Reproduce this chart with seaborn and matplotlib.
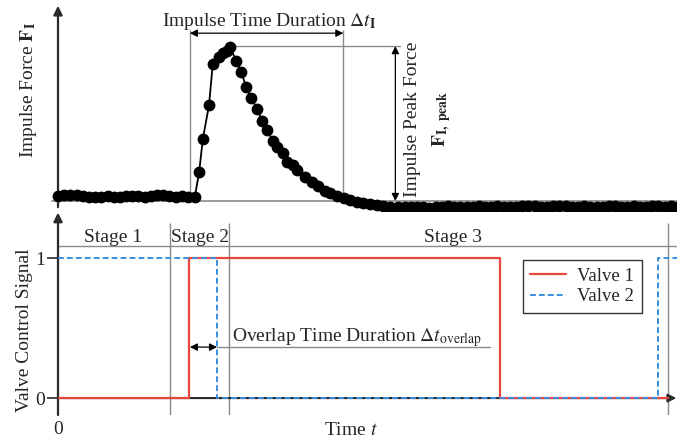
import matplotlib
matplotlib.use("Agg")
import matplotlib.pyplot as plt
import seaborn as sns

# Impulse force samples (normalised so the peak is 1)
t_pre = [0, 1, 2, 3, 4, 5, 6, 7, 8, 9, 10, 11, 12, 13, 14, 15, 16, 17, 18, 19, 20, 21]
f_pre = [0.030, 0.036, 0.042, 0.038, 0.030, 0.026, 0.024, 0.028, 0.030, 0.026, 0.028,
         0.032, 0.030, 0.034, 0.028, 0.030, 0.036, 0.038, 0.032, 0.028, 0.030, 0.026]
t_imp = [22.1, 22.8, 23.4, 24.4, 25.0, 26.0, 26.7, 27.3, 27.8, 28.8, 29.6, 30.4, 31.2,
         32.2, 33.0, 33.8, 34.7, 35.4, 36.4, 37.0, 38.0, 38.6, 39.9, 41.0, 42.0, 43.1,
         44.0, 45.1, 46.2, 47.2, 48.3, 49.3, 50.4, 51.5, 52.5, 53.6]
f_imp = [0.026, 0.188, 0.403, 0.623, 0.890, 0.935, 0.961, 0.974, 1.000, 0.909, 0.838,
         0.740, 0.669, 0.597, 0.519, 0.461, 0.390, 0.351, 0.312, 0.253, 0.234, 0.201,
         0.156, 0.123, 0.097, 0.065, 0.052, 0.032, 0.019, 0.006, -0.006, -0.013,
         -0.019, -0.026, -0.032, -0.039]
t_post = [55, 56, 57, 58, 59, 60, 61, 62, 63, 64, 65, 66, 67, 68, 69, 70, 71, 72, 73,
          74, 75, 76, 77, 78, 79, 80, 81, 82, 83, 84, 85, 86, 87, 88, 89, 90, 91, 92,
          93, 94, 95, 96, 97, 98, 99, 100]
f_post = [-0.040, -0.042, -0.038, -0.036, -0.040, -0.044, -0.040, -0.036, -0.034,
          -0.038, -0.042, -0.040, -0.036, -0.034, -0.038, -0.036, -0.032, -0.036,
          -0.040, -0.038, -0.034, -0.030, -0.034, -0.038, -0.036, -0.032, -0.030,
          -0.034, -0.038, -0.036, -0.034, -0.038, -0.040, -0.036, -0.032, -0.034,
          -0.038, -0.036, -0.034, -0.036, -0.038, -0.034, -0.032, -0.036, -0.034, -0.036]

# Valve control signals (step changes)
t_valve1 = [0, 21.2, 71.4, 98.6]
valve1 = [0, 1, 0, 0]
t_valve2 = [0, 25.7, 97.0, 100]
valve2 = [1, 0, 1, 1]

# Event times
impulse_start, impulse_end = 21.3, 46.1
stage_bounds = [18.1, 27.6, 98.6]
stage_labels = ["Stage 1", "Stage 2", "Stage 3"]
stage_label_x = [8.9, 22.9, 63.8]

sns.set_style("white")
plt.rcParams["font.family"] = ["Liberation Serif", "DejaVu Serif"]
plt.rcParams["mathtext.fontset"] = "stix"
plt.rcParams["font.size"] = 14

fig = plt.figure(figsize=(6.77, 4.43), dpi=100)
ax1 = fig.add_axes([58 / 677, (443 - 215) / 443, 619 / 677, 210 / 443])
ax2 = fig.add_axes([58 / 677, (443 - 415) / 443, 619 / 677, 203 / 443])
for ax in (ax1, ax2):
    ax.set_xlim(0, 100)
    for sp in ax.spines.values():
        sp.set_visible(False)

gray = "#8a8a8a"
axis_col = "#2a2a2a"
dbl = dict(arrowstyle="<|-|>", color="black", lw=0.9, mutation_scale=11,
           shrinkA=0, shrinkB=0)

# ---- top: impulse force ----
ax1.set_ylim(-0.091, 1.273)
ax1.set_xticks([])
ax1.set_yticks([])
ax1.plot([-1, 100], [0, 0], color=gray, lw=1.2, clip_on=False, zorder=1)
ax1.annotate("", xy=(0, 1.268), xytext=(0, -0.04), annotation_clip=False,
             arrowprops=dict(arrowstyle="-|>", color=axis_col, lw=1.6,
                             mutation_scale=13, shrinkA=0, shrinkB=0))

sns.lineplot(x=t_pre + t_imp + t_post, y=f_pre + f_imp + f_post, ax=ax1,
             color="black", lw=1.3, marker="o", markersize=8.5, markeredgewidth=0,
             sort=False, estimator=None, clip_on=False, zorder=3)

ax1.vlines([impulse_start, impulse_end], 0, 1.11, color=gray, lw=1.0, zorder=1)
ax1.annotate("", xy=(impulse_start, 1.09), xytext=(impulse_end, 1.09), arrowprops=dbl)
ax1.text(16.8, 1.136, r"Impulse Time Duration $\Delta t_\mathbf{I}$", va="baseline")

ax1.plot([28.1, 55.3], [1.006, 1.006], color=gray, lw=1.0, zorder=1)
ax1.annotate("", xy=(54.5, 1.006), xytext=(54.5, 0.0), arrowprops=dbl)
ax1.text(57.2, 0.53, "Impulse Peak Force", rotation=90, ha="center", va="center")
ax1.text(62.0, 0.53, r"$\mathbf{F}_\mathbf{I,\ peak}$", rotation=90, ha="center", va="center")
ax1.text(-4.8, 0.72, r"Impulse Force $\mathbf{F}_\mathbf{I}$", rotation=90,
         ha="center", va="center")

# ---- bottom: valve control signals ----
ax2.set_ylim(-0.121, 1.329)
ax2.annotate("", xy=(0, 1.325), xytext=(0, -0.121), annotation_clip=False,
             arrowprops=dict(arrowstyle="-|>", color=axis_col, lw=1.6,
                             mutation_scale=13, shrinkA=0, shrinkB=0))
ax2.annotate("", xy=(99.9, 0), xytext=(0, 0), annotation_clip=False,
             arrowprops=dict(arrowstyle="-|>", color=axis_col, lw=1.5,
                             mutation_scale=12, shrinkA=0, shrinkB=0))

ax2.vlines(stage_bounds, -0.121, 1.25, color=gray, lw=1.0, zorder=1)
ax2.plot([0, 100], [1.086, 1.086], color=gray, lw=1.0, zorder=1)
for lab, x in zip(stage_labels, stage_label_x):
    ax2.text(x, 1.116, lab, ha="center", va="baseline")

sns.lineplot(x=t_valve1, y=valve1, ax=ax2, color="#e8453c", lw=1.6,
             drawstyle="steps-post", label="Valve 1", sort=False, estimator=None, zorder=3)
sns.lineplot(x=t_valve2, y=valve2, ax=ax2, color="#3a8edc", lw=1.4,
             linestyle=(0, (3, 1.6)), drawstyle="steps-post", label="Valve 2",
             sort=False, estimator=None, zorder=4)

ax2.annotate("", xy=(21.3, 0.364), xytext=(25.7, 0.364), arrowprops=dbl)
ax2.plot([25.7, 69.8], [0.364, 0.364], color=gray, lw=1.0, zorder=1)
ax2.text(28.1, 0.402, r"Overlap Time Duration $\Delta t_\mathrm{overlap}$", va="baseline")

ax2.set_yticks([0, 1])
ax2.set_yticklabels(["0", "1"])
ax2.tick_params(axis="y", left=True, length=8, width=1.2, color=axis_col, pad=1)
ax2.set_xticks([0])
ax2.set_xticklabels(["0"])
ax2.tick_params(axis="x", length=0, pad=4)
ax2.set_xlabel("Time $t$")
ax2.xaxis.set_label_coords(0.473, -0.035)
ax2.set_ylabel("")
ax2.text(-5.4, 0.486, "Valve Control Signal", rotation=90, ha="center", va="center")

leg = ax2.legend(loc="upper left", bbox_to_anchor=(0.751, 0.764), borderaxespad=0,
                 frameon=True, fancybox=False, edgecolor="#333333", framealpha=1,
                 fontsize=13.5, handlelength=1.9, handletextpad=0.6, borderpad=0.4,
                 labelspacing=0.2)
leg.get_frame().set_linewidth(1.0)

fig.savefig("out.png", dpi=100)
